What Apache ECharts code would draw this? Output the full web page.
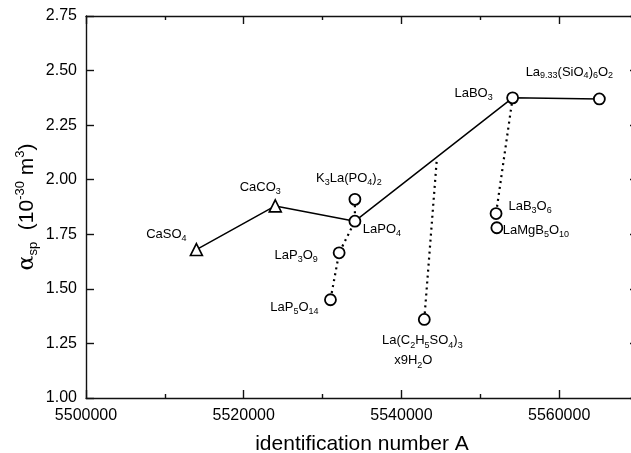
<!DOCTYPE html>
<html><head><meta charset="utf-8">
<script src="https://cdn.jsdelivr.net/npm/echarts@6/dist/echarts.min.js"></script>
<style>html,body{margin:0;padding:0;background:#fff}#c{width:631px;height:453px}</style>
</head><body><div id="c"></div>
<script>
// ---- data ----
const triangleNames = ['CaSO{s|4}', 'CaCO{s|3}'];
const triangleX = [5514000, 5524000];
const triangleY = [1.68, 1.88];

const circleNames = ['LaPO{s|4}', 'LaBO{s|3}', 'La{s|9.33}(SiO{s|4}){s|6}O{s|2}',
  'K{s|3}La(PO{s|4}){s|2}', 'LaP{s|3}O{s|9}', 'LaP{s|5}O{s|14}',
  'La(C{s|2}H{s|5}SO{s|4}){s|3}\nx9H{s|2}O{gap| }', 'LaB{s|3}O{s|6}', 'LaMgB{s|5}O{s|10}'];
const circleX = [5534100, 5554100, 5565100, 5534100, 5532100, 5531000, 5542900, 5552000, 5552100];
const circleY = [1.81, 2.375, 2.37, 1.91, 1.665, 1.45, 1.36, 1.845, 1.78];

// solid line path: CaSO4, CaCO3, LaPO4, LaBO3, La9.33
const solidX = [5514000, 5524000, 5534100, 5554100, 5565100];
const solidY = [1.68, 1.88, 1.81, 2.375, 2.37];

// dotted connections
const dot1X = [5534100, 5534100, 5532100, 5531000];
const dot1Y = [1.91, 1.81, 1.665, 1.45];
const dot2X = [5542900, 5544500];
const dot2Y = [1.36, 2.10];
const dot3X = [5554100, 5552000, 5552100];
const dot3Y = [2.375, 1.845, 1.78];

const yTicks = [1.00, 1.25, 1.50, 1.75, 2.00, 2.25, 2.50, 2.75];

// label offsets (style)
const triOffsets = [[-30, -15], [-15, -18]];
const circOffsets = [[27, 8], [-39, -4], [-30, -27], [-6, -21], [-43, 3], [-36, 8], [-2, 31], [34, -7], [39, 3]];
const circLineHeights = [17, 17, 17, 17, 17, 17, 20, 17, 17];

const FONT = 'Liberation Sans, Arial, Helvetica, sans-serif';
const rich = {
  s: {fontSize: 9, fontFamily: FONT, color: '#000', verticalAlign: 'bottom', lineHeight: 8},
  gap: {width: 18, fontSize: 9}
};
const pair = (xs, ys) => xs.map((x, i) => [x, ys[i]]);

const labelBase = {
  show: true, position: 'inside', align: 'center', verticalAlign: 'middle',
  fontSize: 13, fontFamily: FONT, color: '#000', lineHeight: 17, rich: rich
};

const axisCommonX = {
  type: 'value', min: 5500000, max: 5570000, interval: 20000,
  axisLine: {show: true, onZero: false, lineStyle: {color: '#111', width: 1.4}},
  axisTick: {show: true, inside: true, length: 8, lineStyle: {color: '#111', width: 1.4}},
  minorTick: {show: true, splitNumber: 2, length: 4, lineStyle: {color: '#111', width: 1.4}},
  splitLine: {show: false}, minorSplitLine: {show: false}
};
const axisCommonY = {
  type: 'value', min: 1, max: 2.75, interval: 0.25,
  axisLine: {show: true, onZero: false, lineStyle: {color: '#111', width: 1.4}},
  axisTick: {show: true, inside: true, length: 8, lineStyle: {color: '#111', width: 1.4}},
  splitLine: {show: false}
};

const chart = echarts.init(document.getElementById('c'), null, {renderer: 'canvas'});
chart.setOption({
  animation: false,
  backgroundColor: '#fff',
  grid: {left: 86, top: 16, right: -7, bottom: 55, containLabel: false, outerBoundsMode: 'none'},
  xAxis: [
    Object.assign({}, axisCommonX, {
      position: 'bottom',
      axisLabel: {show: true, fontSize: 16, fontFamily: FONT, color: '#000', margin: 10, showMaxLabel: false,
        formatter: v => String(v)},
      name: 'identification number A', nameLocation: 'middle', nameGap: 36,
      nameTextStyle: {fontSize: 21, fontFamily: FONT, color: '#000'}
    }),
    Object.assign({}, axisCommonX, {position: 'top', axisLabel: {show: false}})
  ],
  yAxis: [
    Object.assign({}, axisCommonY, {
      position: 'left',
      axisLabel: {show: true, fontSize: 16, fontFamily: FONT, color: '#000', margin: 9,
        formatter: v => yTicks.find(t => Math.abs(t - v) < 1e-9) !== undefined ? v.toFixed(2) : ''},
      name: '{a|α}{sb|sp}  (10{sp|-30} m{sp|3})', nameLocation: 'middle', nameGap: 46, nameRotate: 90,
      nameMoveOverlap: false,
      nameTextStyle: {fontSize: 21, fontFamily: FONT, color: '#000', lineHeight: 26,
        rich: {
          a: {fontSize: 22, fontFamily: 'DejaVu Serif, serif', color: '#000', lineHeight: 26},
          sb: {fontSize: 13, fontFamily: FONT, color: '#000', verticalAlign: 'bottom', lineHeight: 13},
          sp: {fontSize: 13, fontFamily: FONT, color: '#000', verticalAlign: 'top', lineHeight: 13}
        }}
    }),
    Object.assign({}, axisCommonY, {position: 'right', axisLabel: {show: false}})
  ],
  series: [
    {type: 'line', data: pair(dot1X, dot1Y), symbol: 'none', z: 1,
      lineStyle: {color: '#000', width: 2.2, type: [2, 4]}},
    {type: 'line', data: pair(dot2X, dot2Y), symbol: 'none', z: 1,
      lineStyle: {color: '#000', width: 2.2, type: [2, 4]}},
    {type: 'line', data: pair(dot3X, dot3Y), symbol: 'none', z: 1,
      lineStyle: {color: '#000', width: 2.2, type: [2, 4]}},
    {type: 'line', data: pair(solidX, solidY), symbol: 'none', z: 2,
      lineStyle: {color: '#000', width: 1.5}},
    {type: 'scatter', z: 3, symbol: 'triangle', symbolSize: 12,
      itemStyle: {color: '#fff', borderColor: '#000', borderWidth: 1.6, opacity: 1},
      data: triangleX.map((x, i) => ({value: [x, triangleY[i]],
        label: Object.assign({}, labelBase, {formatter: triangleNames[i], offset: triOffsets[i]})}))},
    {type: 'scatter', z: 3, symbol: 'circle', symbolSize: 11,
      itemStyle: {color: '#fff', borderColor: '#000', borderWidth: 1.8, opacity: 1},
      data: circleX.map((x, i) => ({value: [x, circleY[i]],
        label: Object.assign({}, labelBase, {formatter: circleNames[i], offset: circOffsets[i],
          lineHeight: circLineHeights[i]})}))}
  ]
});
</script></body></html>
